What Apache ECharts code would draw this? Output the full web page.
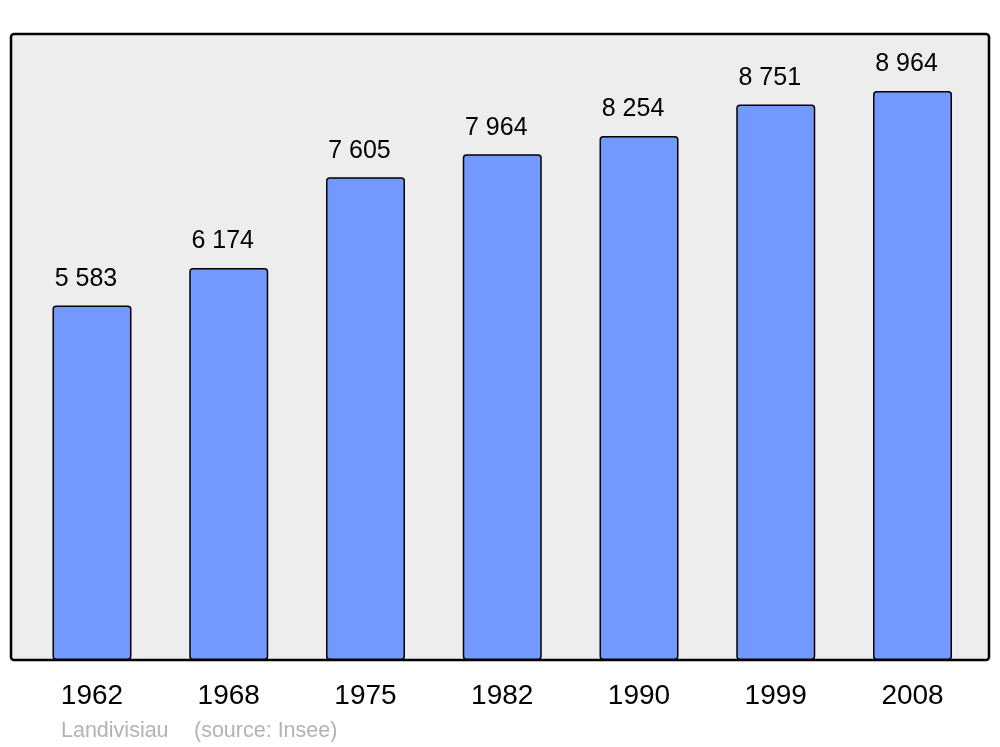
<!DOCTYPE html>
<html>
<head>
<meta charset="utf-8">
<script src="https://cdn.jsdelivr.net/npm/echarts@6/dist/echarts.min.js"></script>
<style>html,body{margin:0;padding:0;background:#fff;}#c{width:1000px;height:747px;}</style>
</head>
<body>
<div id="c"></div>
<script>
var years = ['1962', '1968', '1975', '1982', '1990', '1999', '2008'];
var population = [5583, 6174, 7605, 7964, 8254, 8751, 8964];
var townName = 'Landivisiau';
var sourceText = '(source: Insee)';

function fmt(v) {
  return String(v).replace(/\B(?=(\d{3})+(?!\d))/g, ' ');
}

var chart = echarts.init(document.getElementById('c'), null, {renderer: 'canvas'});
chart.setOption({
  animation: false,
  backgroundColor: '#ffffff',
  graphic: [
    {type: 'rect', z: -10, shape: {x: 11, y: 34, width: 978, height: 626, r: 3},
     style: {fill: '#ededed', stroke: '#000', lineWidth: 2.5}},
    {type: 'text', left: 61, top: 720, z: 10,
     style: {text: townName, fill: '#b3b3b3', font: '21.5px "Liberation Sans", Arial, sans-serif'}},
    {type: 'text', left: 194, top: 720, z: 10,
     style: {text: sourceText, fill: '#b3b3b3', font: '21.5px "Liberation Sans", Arial, sans-serif'}}
  ],
  grid: {left: 23.6, right: 19.1, top: 34, bottom: 87, containLabel: false},
  xAxis: {
    type: 'category',
    data: years,
    axisLine: {show: false},
    axisTick: {show: false},
    axisLabel: {color: '#000', fontSize: 28, fontFamily: '"Liberation Sans", Arial, sans-serif', margin: 22}
  },
  yAxis: {
    type: 'value', min: 0, max: 9860,
    show: false,
    splitLine: {show: false}
  },
  series: [{
    type: 'bar',
    data: population,
    barWidth: 79,
    itemStyle: {color: '#7399ff', borderColor: '#000', borderWidth: 1.5, borderRadius: 3},
    label: {
      show: true, position: 'top', distance: 14, offset: [-6, 0],
      color: '#000', fontSize: 25, fontFamily: '"Liberation Sans", Arial, sans-serif',
      formatter: function (p) { return fmt(p.value); }
    }
  }]
});
</script>
</body>
</html>
